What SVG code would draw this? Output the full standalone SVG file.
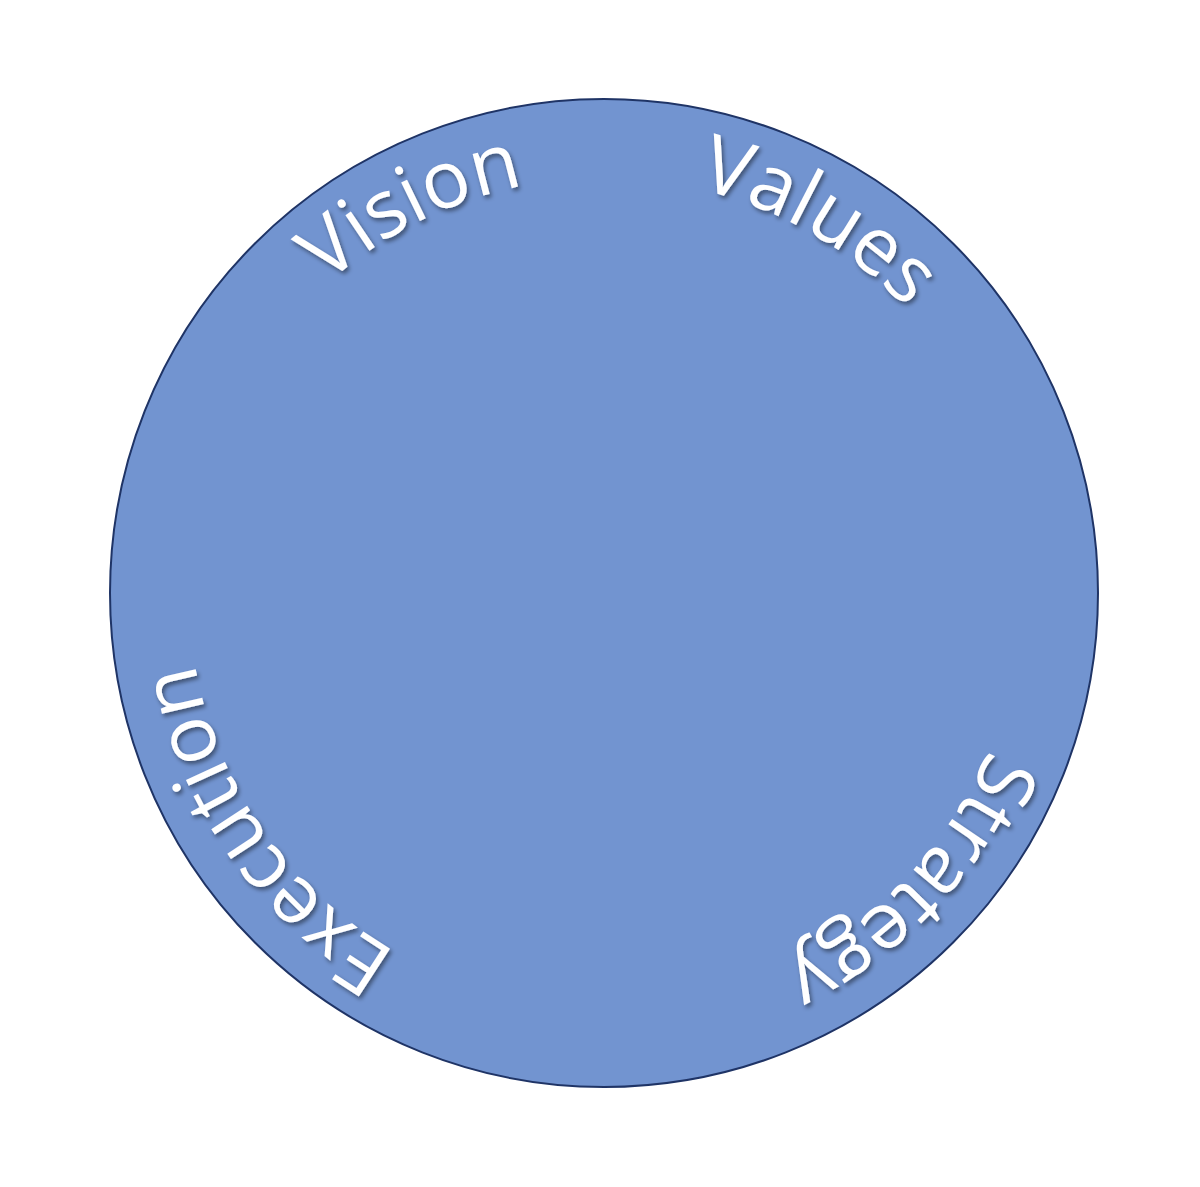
<svg xmlns="http://www.w3.org/2000/svg" xmlns:xlink="http://www.w3.org/1999/xlink" width="1200" height="1187" viewBox="0 0 1200 1187">
<style>
.lbl{font-family:"Open Sans","Noto Sans",sans-serif;font-size:80px;fill:#ffffff;filter:url(#sh)}
</style>
<defs>
<filter id="sh" x="-10%" y="-10%" width="130%" height="130%"><feDropShadow dx="2" dy="3" stdDeviation="2" flood-color="#000" flood-opacity="0.45"/></filter>
<path id="ring" d="M189,593 A415,415 0 1 1 1019,593 A415,415 0 1 1 189,593"/>
</defs>
<g id="circle"><circle cx="604" cy="593" r="494" fill="#7294D0" stroke="#1F3466" stroke-width="2"/></g>
<g id="labels">
<text class="lbl"><textPath xlink:href="#ring" startOffset="348">Vision</textPath></text>
<text class="lbl"><textPath xlink:href="#ring" startOffset="746">Values</textPath></text>
<text class="lbl"><textPath xlink:href="#ring" startOffset="1463">Strategy</textPath></text>
<text class="lbl"><textPath xlink:href="#ring" startOffset="2172">Execution</textPath></text>
</g>
</svg>
